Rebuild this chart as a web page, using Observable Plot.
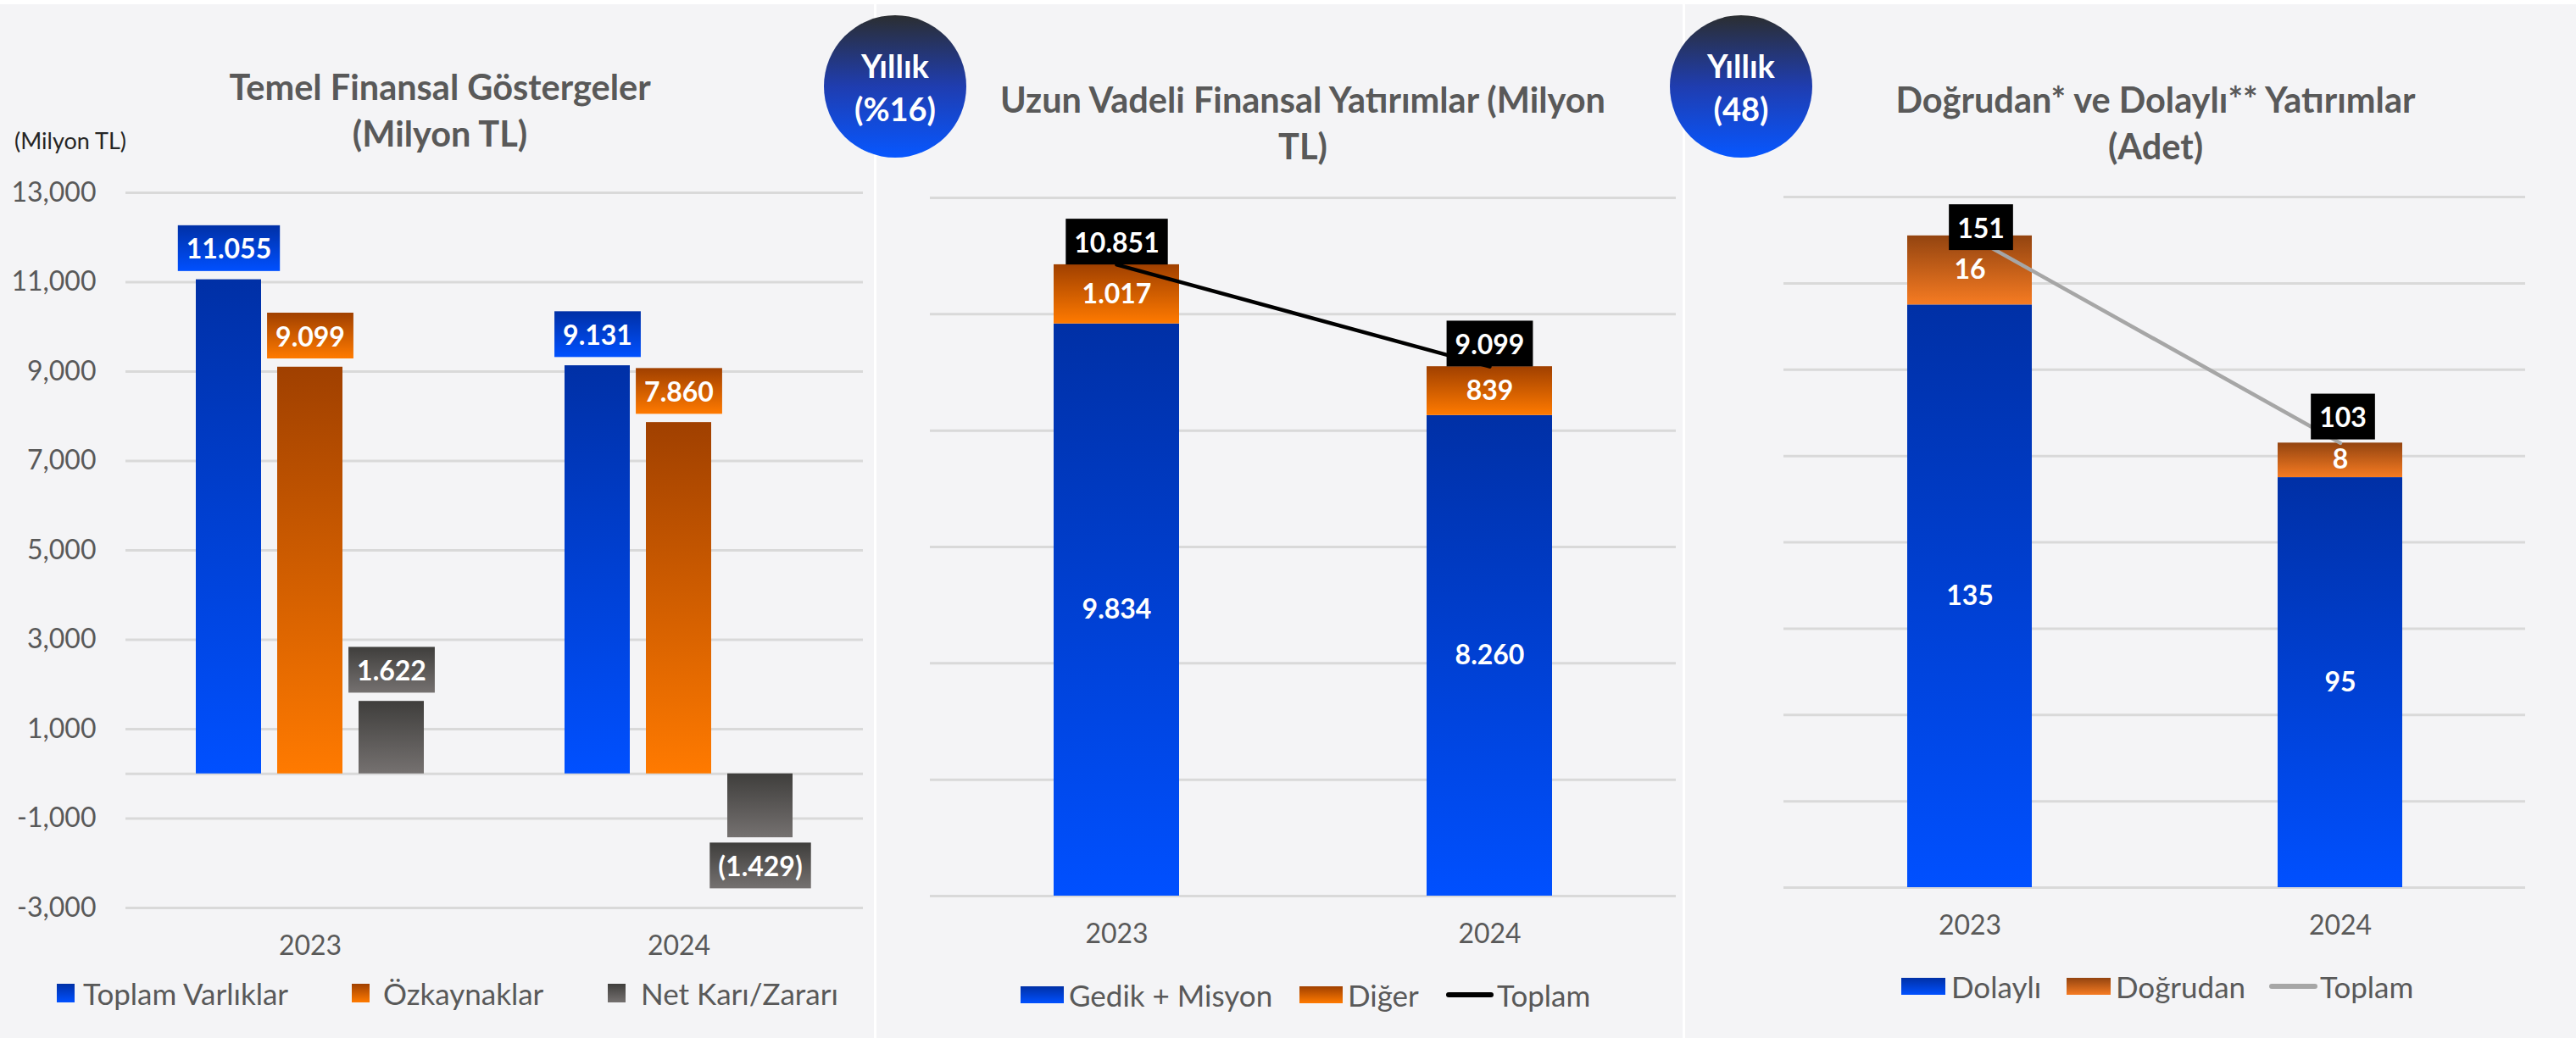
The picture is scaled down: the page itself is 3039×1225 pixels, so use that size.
<!DOCTYPE html>
<html>
<head>
<meta charset="utf-8">
<script src="https://cdn.jsdelivr.net/npm/d3@7"></script>
<script src="https://cdn.jsdelivr.net/npm/@observablehq/plot@0.6"></script>
<style>
html, body { margin: 0; padding: 0; background: #f4f4f6; }
#root { position: relative; width: 3039px; height: 1225px; overflow: hidden; background: #f4f4f6; font-family: Lato, "Open Sans", sans-serif; }
.topstrip { position: absolute; left: 0; top: 0; width: 3039px; height: 5px; background: #ffffff; }
.divider { position: absolute; top: 0; width: 3px; height: 1225px; background: #ffffff; }
.chart { position: absolute; top: 200px; }
.title { position: absolute; transform: translateX(-50%); text-align: center; white-space: nowrap; font-weight: 700; font-size: 41.5px; line-height: 55px; color: #595959; }
.unit { position: absolute; left: 17px; top: 150px; font-size: 27px; line-height: 32px; color: #262626; white-space: nowrap; }
.badge { position: absolute; width: 168px; height: 168px; border-radius: 50%; background: linear-gradient(to bottom, #2b2e31 0%, #1f3db0 50%, #0757ff 100%); color: #ffffff; font-weight: 700; font-size: 38px; line-height: 51px; text-align: center; }
.badge .in { position: absolute; left: 0; right: 0; top: 34px; }
.leg { position: absolute; display: flex; align-items: center; height: 40px; font-size: 35px; line-height: 40px; color: #595959; white-space: nowrap; }
.sw { display: inline-block; flex: none; }
</style>
</head>
<body>
<svg width="0" height="0" style="position:absolute">
  <defs>
    <linearGradient id="gBlue" x1="0" y1="0" x2="0" y2="1">
      <stop offset="0" stop-color="#0030a6"/><stop offset="1" stop-color="#0050ff"/>
    </linearGradient>
    <linearGradient id="gOrange" x1="0" y1="0" x2="0" y2="1">
      <stop offset="0" stop-color="#a04000"/><stop offset="1" stop-color="#ff7a00"/>
    </linearGradient>
    <linearGradient id="gGray" x1="0" y1="0" x2="0" y2="1">
      <stop offset="0" stop-color="#3f3e3c"/><stop offset="1" stop-color="#757170"/>
    </linearGradient>
    <linearGradient id="gOrange3" x1="0" y1="0" x2="0" y2="1">
      <stop offset="0" stop-color="#934410"/><stop offset="1" stop-color="#f67b22"/>
    </linearGradient>
  </defs>
</svg>
<div id="root"></div>
<script>
// ---------------- DATA ----------------
const years = ["2023", "2024"];

// Panel 1: Temel Finansal Göstergeler (Milyon TL)
const p1Title = ["Temel Finansal Göstergeler", "(Milyon TL)"];
const p1Unit = "(Milyon TL)";
const p1Series = ["Toplam Varlıklar", "Özkaynaklar", "Net Karı/Zararı"];
const p1Varliklar = [11055, 9131];
const p1Ozkaynak = [9099, 7860];
const p1NetKar = [1622, -1429];
const p1Ticks = [-3000, -1000, 1000, 3000, 5000, 7000, 9000, 11000, 13000];

// Panel 2: Uzun Vadeli Finansal Yatırımlar (Milyon TL)
const p2Title = ["Uzun Vadeli Finansal Yatırımlar (Milyon", "TL)"];
const p2Series = ["Gedik + Misyon", "Diğer"];
const p2LineName = "Toplam";
const p2Gedik = [9834, 8260];
const p2Diger = [1017, 839];
const p2Toplam = [10851, 9099];
const p2Ticks = [0, 2000, 4000, 6000, 8000, 10000, 12000];
const badge1 = ["Yıllık", "(%16)"];

// Panel 3: Doğrudan* ve Dolaylı** Yatırımlar (Adet)
const p3Title = ["Doğrudan* ve Dolaylı** Yatırımlar", "(Adet)"];
const p3Series = ["Dolaylı", "Doğrudan"];
const p3LineName = "Toplam";
const p3Dolayli = [135, 95];
const p3Dogrudan = [16, 8];
const p3Toplam = [151, 103];
const p3Ticks = [0, 20, 40, 60, 80, 100, 120, 140, 160];
const badge2 = ["Yıllık", "(48)"];

// ---------------- HELPERS ----------------
const root = document.getElementById("root");
const fmtTR = d3.formatLocale({decimal: ",", thousands: ".", grouping: [3], currency: ["", ""]}).format(",d");
const lab = v => v < 0 ? `(${fmtTR(-v)})` : fmtTR(v);
const tickFmt = d => (d < 0 ? "-" : "") + d3.format(",")(Math.abs(d));
const FONT = "Lato, 'Open Sans', sans-serif";
const GRID = {stroke: "#d9d9d9", strokeWidth: 3, strokeOpacity: 1};
const LBL = {fill: "white", fontSize: 32, fontWeight: "bold"};

function el(tag, cls, parent, css) {
  const e = document.createElement(tag);
  if (cls) e.className = cls;
  if (css) Object.assign(e.style, css);
  (parent || root).appendChild(e);
  return e;
}

function addBoxes(svg) {
  svg.querySelectorAll("[aria-description^='box:']").forEach(g => {
    const fill = g.getAttribute("aria-description").slice(4);
    g.querySelectorAll("text").forEach(t => {
      const b = t.getBBox();
      const r = document.createElementNS("http://www.w3.org/2000/svg", "rect");
      const cy = b.y + b.height / 2;
      r.setAttribute("x", b.x - 10);
      r.setAttribute("width", b.width + 20);
      r.setAttribute("y", cy - 27);
      r.setAttribute("height", 54);
      r.setAttribute("fill", fill);
      r.setAttribute("stroke", "none");
      const tr = t.getAttribute("transform");
      if (tr) r.setAttribute("transform", tr);
      t.parentNode.insertBefore(r, t);
    });
  });
}

function place(chart, left) {
  const wrap = el("div", "chart", root, {left: left + "px"});
  wrap.appendChild(chart);
  addBoxes(chart);
}

function legend(items, top) {
  items.forEach(it => {
    const row = el("div", "leg", root, {left: it.x + "px", top: top + "px"});
    el("span", "sw", row, it.swatch);
    const tx = el("span", "", row, {marginLeft: it.gap + "px"});
    tx.textContent = it.label;
  });
}

// ---------------- BACKGROUND / FRAME ----------------
el("div", "topstrip");
el("div", "divider", root, {left: "1031px"});
el("div", "divider", root, {left: "1985px"});

// ---------------- PANEL 1 ----------------
const p1Rows = years.flatMap((yr, i) => [
  {year: yr, series: p1Series[0], value: p1Varliklar[i]},
  {year: yr, series: p1Series[1], value: p1Ozkaynak[i]},
  {year: yr, series: p1Series[2], value: p1NetKar[i]}
]);
const p1Fill = ["url(#gBlue)", "url(#gOrange)", "url(#gGray)"];

const chart1 = Plot.plot({
  width: 1031, height: 940,
  marginLeft: 148, marginRight: 13, marginTop: 27, marginBottom: 69,
  style: {background: "transparent", fontFamily: FONT, color: "#595959", overflow: "visible"},
  fx: {domain: years, padding: 0, label: null},
  x: {domain: p1Series, paddingInner: 0.2, paddingOuter: 0.865, axis: null},
  y: {domain: [-3000, 13000], label: null},
  color: {domain: p1Series, range: p1Fill},
  marks: [
    Plot.gridY(p1Ticks, GRID),
    Plot.ruleY([0], GRID),
    Plot.axisY(p1Ticks, {tickFormat: tickFmt, tickSize: 0, tickPadding: 35, fontSize: 32, label: null, fill: "#595959"}),
    Plot.axisFx({anchor: "bottom", tickSize: 0, tickPadding: 33, fontSize: 32, label: null, fill: "#595959"}),
    Plot.barY(p1Rows, {fx: "year", x: "series", y: "value", fill: "series"}),
    ...p1Series.flatMap((s, k) => [
      Plot.text(p1Rows.filter(d => d.series === s && d.value >= 0),
        {fx: "year", x: "series", y: "value", text: d => lab(d.value), dy: -35, ...LBL, ariaDescription: "box:" + p1Fill[k]}),
      Plot.text(p1Rows.filter(d => d.series === s && d.value < 0),
        {fx: "year", x: "series", y: "value", text: d => lab(d.value), dy: 35, ...LBL, ariaDescription: "box:" + p1Fill[k]})
    ])
  ]
});
place(chart1, 0);

{
  const t = el("div", "title", root, {left: "519px", top: "75px"});
  t.innerHTML = p1Title.join("<br>");
  const u = el("div", "unit");
  u.textContent = p1Unit;
}
legend([
  {x: 67, gap: 10, label: p1Series[0], swatch: {width: "21px", height: "22px", background: "linear-gradient(#0030a6,#0050ff)"}},
  {x: 415, gap: 16, label: p1Series[1], swatch: {width: "21px", height: "22px", background: "linear-gradient(#a04000,#ff7a00)"}},
  {x: 717, gap: 18, label: p1Series[2], swatch: {width: "21px", height: "22px", background: "linear-gradient(#3f3e3c,#757170)"}}
], 1152);

// ---------------- PANEL 2 ----------------
const p2Rows = years.flatMap((yr, i) => [
  {year: yr, series: p2Series[0], value: p2Gedik[i], lo: 0, hi: p2Gedik[i]},
  {year: yr, series: p2Series[1], value: p2Diger[i], lo: p2Gedik[i], hi: p2Gedik[i] + p2Diger[i]}
]);
const p2Tot = years.map((yr, i) => ({year: yr, value: p2Toplam[i]}));

const chart2 = Plot.plot({
  width: 951, height: 940,
  marginLeft: 63, marginRight: 8, marginTop: 33, marginBottom: 83,
  style: {background: "transparent", fontFamily: FONT, color: "#595959", overflow: "visible"},
  x: {domain: years, paddingInner: 0.664, paddingOuter: 0.332, label: null},
  y: {domain: [0, 12000], axis: null},
  color: {domain: p2Series, range: ["url(#gBlue)", "url(#gOrange)"]},
  marks: [
    Plot.gridY(p2Ticks, GRID),
    Plot.axisX({tickSize: 0, tickPadding: 33, fontSize: 32, label: null, fill: "#595959"}),
    Plot.barY(p2Rows, {x: "year", y1: "lo", y2: "hi", fill: "series"}),
    Plot.text(p2Rows, {x: "year", y: d => (d.lo + d.hi) / 2, text: d => lab(d.value), ...LBL}),
    Plot.line(p2Tot, {x: "year", y: "value", stroke: "#000000", strokeWidth: 4.5}),
    Plot.text(p2Tot, {x: "year", y: "value", text: d => lab(d.value), dy: -25, ...LBL, ariaDescription: "box:#000000"})
  ]
});
place(chart2, 1034);

{
  const t = el("div", "title", root, {left: "1537px", top: "90px"});
  t.innerHTML = p2Title.join("<br>");
  const b = el("div", "badge", root, {left: "972px", top: "18px"});
  const inn = el("div", "in", b);
  inn.innerHTML = badge1.join("<br>");
}
legend([
  {x: 1204, gap: 6, label: p2Series[0], swatch: {width: "51px", height: "20px", background: "linear-gradient(#0030a6,#0050ff)"}},
  {x: 1533, gap: 6, label: p2Series[1], swatch: {width: "51px", height: "20px", background: "linear-gradient(#a04000,#ff7a00)"}},
  {x: 1706, gap: 4, label: p2LineName, swatch: {width: "56px", height: "6px", borderRadius: "3px", background: "#000000"}}
], 1154);

// ---------------- PANEL 3 ----------------
const p3Rows = years.flatMap((yr, i) => [
  {year: yr, series: p3Series[0], value: p3Dolayli[i], lo: 0, hi: p3Dolayli[i]},
  {year: yr, series: p3Series[1], value: p3Dogrudan[i], lo: p3Dolayli[i], hi: p3Dolayli[i] + p3Dogrudan[i]}
]);
const p3Tot = years.map((yr, i) => ({year: yr, value: p3Toplam[i]}));

const chart3 = Plot.plot({
  width: 1051, height: 940,
  marginLeft: 116, marginRight: 60, marginTop: 32, marginBottom: 93,
  style: {background: "transparent", fontFamily: FONT, color: "#595959", overflow: "visible"},
  x: {domain: years, paddingInner: 0.664, paddingOuter: 0.332, label: null},
  y: {domain: [0, 160], axis: null},
  color: {domain: p3Series, range: ["url(#gBlue)", "url(#gOrange3)"]},
  marks: [
    Plot.gridY(p3Ticks, GRID),
    Plot.axisX({tickSize: 0, tickPadding: 33, fontSize: 32, label: null, fill: "#595959"}),
    Plot.barY(p3Rows, {x: "year", y1: "lo", y2: "hi", fill: "series"}),
    Plot.text(p3Rows, {x: "year", y: d => (d.lo + d.hi) / 2, text: d => lab(d.value), ...LBL}),
    Plot.line(p3Tot, {x: "year", y: "value", stroke: "#a6a6a6", strokeWidth: 4.5}),
    Plot.text(p3Tot.slice(0, 1), {x: "year", y: "value", text: d => lab(d.value), dx: 13, dy: -8, ...LBL, ariaDescription: "box:#000000"}),
    Plot.text(p3Tot.slice(1), {x: "year", y: "value", text: d => lab(d.value), dx: 3, dy: -29, ...LBL, ariaDescription: "box:#000000"})
  ]
});
place(chart3, 1988);

{
  const t = el("div", "title", root, {left: "2543px", top: "90px"});
  t.innerHTML = p3Title.join("<br>");
  const b = el("div", "badge", root, {left: "1970px", top: "18px"});
  const inn = el("div", "in", b);
  inn.innerHTML = badge2.join("<br>");
}
legend([
  {x: 2243, gap: 7, label: p3Series[0], swatch: {width: "52px", height: "20px", background: "linear-gradient(#0030a6,#0050ff)"}},
  {x: 2438, gap: 6, label: p3Series[1], swatch: {width: "52px", height: "20px", background: "linear-gradient(#934410,#f67b22)"}},
  {x: 2677, gap: 3, label: p3LineName, swatch: {width: "57px", height: "6px", borderRadius: "3px", background: "#a6a6a6"}}
], 1144);
</script>
</body>
</html>
